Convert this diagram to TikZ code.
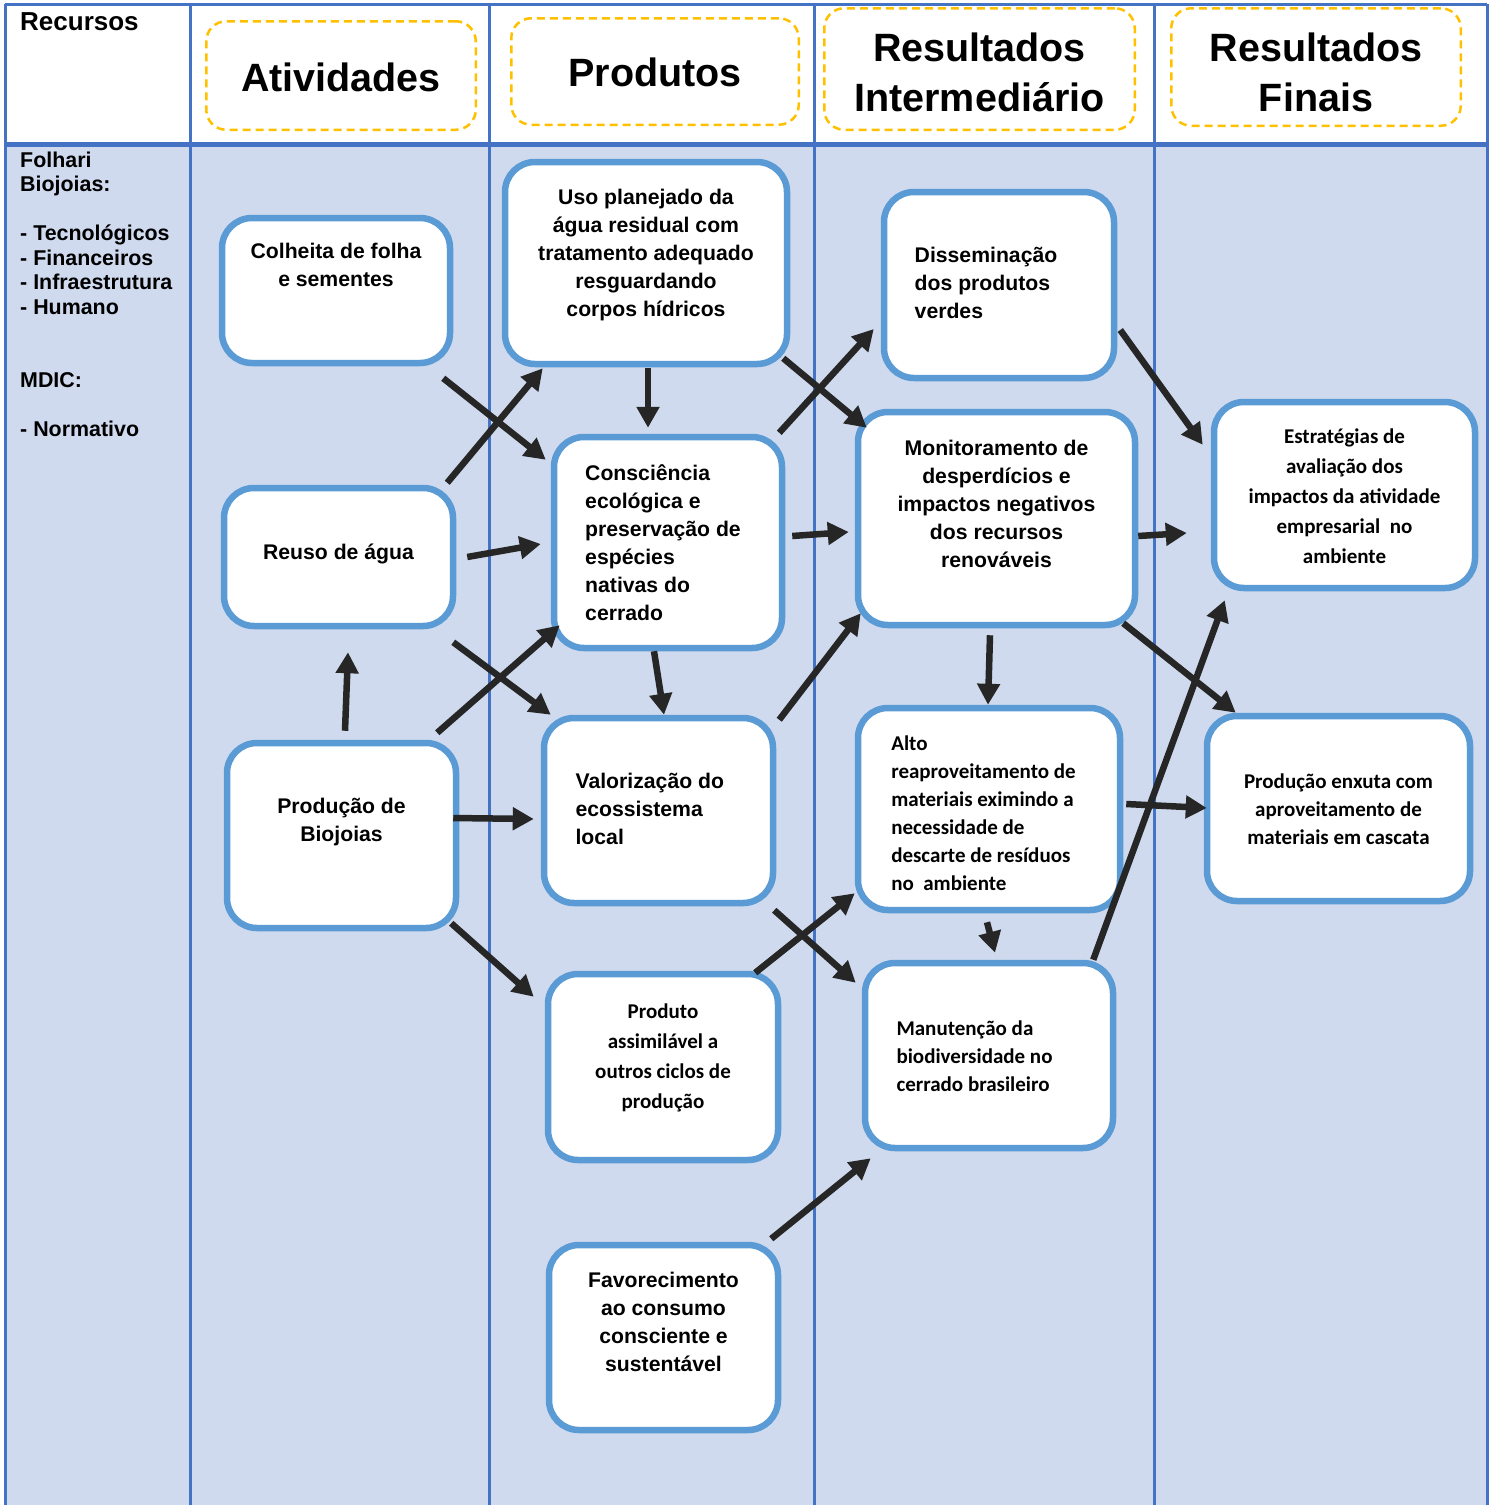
\documentclass[tikz,border=0pt]{standalone}
\usepackage{fontspec}
\setmainfont{Liberation Sans}
\newfontfamily\calib{Carlito}
\usetikzlibrary{arrows.meta}
\definecolor{tblue}{HTML}{4472C4}
\definecolor{bblue}{HTML}{5B9BD5}
\definecolor{bodyfill}{RGB}{207,218,238}
\definecolor{hyel}{HTML}{FFC000}
\definecolor{adark}{HTML}{262626}
\newcommand\boxtxt[4]{\raisebox{#2}[\height][\depth]{\hspace*{#1}\begin{tabular}{@{}#3@{}}#4\end{tabular}\hspace*{-#1}}}
\begin{document}
\begin{tikzpicture}[x=1pt,y=-1pt,
  box/.style={draw=bblue, line width=6.5pt, fill=white, rounded corners=30pt, inner sep=0pt},
  hdr/.style={draw=hyel, line width=2.5pt, dash pattern=on 8pt off 5pt, rounded corners=20pt, inner sep=0pt, font=\fontsize{39.5}{50}\selectfont\bfseries},
  tA/.style={font=\fontsize{21.2}{28}\selectfont\bfseries},
  tC/.style={font=\fontsize{21}{28}\selectfont\calib\bfseries},
  tCw/.style={font=\fontsize{21}{30}\selectfont\calib\bfseries},
  tline/.style={draw=tblue, line width=3pt},
  arw/.style={draw=adark, line width=6.5pt, -{Triangle[length=21pt,width=22pt]}}
]
\useasboundingbox (0,0) rectangle (1495,1505);
% table
\fill[bodyfill] (5,144) rectangle (1487,1505);
\draw[tline] (5,4) -- (1487,4);
\foreach \xx in {5,190,489,814,1154,1487} {\draw[tline] (\xx,4) -- (\xx,1505);}
\draw[tline, line width=4.5pt] (5,144.5) -- (1487,144.5);

% header
\node[anchor=base west, inner sep=0pt, font=\fontsize{26}{30}\selectfont\bfseries] (recursos) at (20,30) {Recursos};
\node[hdr, minimum width=269.5pt, minimum height=108.5pt] (hativ) at (341,75.5) {\boxtxt{0pt}{-5.5pt}{c}{Atividades}};
\node[hdr, minimum width=287.5pt, minimum height=106.5pt] (hprod) at (655,71.5) {\boxtxt{0pt}{-4.5pt}{c}{Produtos}};
\node[hdr, minimum width=310.5pt, minimum height=121.5pt] (hri) at (979.5,69) {\boxtxt{0pt}{-7pt}{c}{Resultados\\Intermediário}};
\node[hdr, minimum width=289.5pt, minimum height=117.5pt] (hrf) at (1316,67) {\boxtxt{0pt}{-9pt}{c}{Resultados\\Finais}};

% resources column
\node[anchor=base west, inner sep=0pt, font=\fontsize{21.4}{24.5}\selectfont\bfseries] (insumos) at (20,167)
  {\begin{tabular}[t]{@{}l@{}}Folhari\\Biojoias:\\ \\- Tecnológicos\\- Financeiros\\- Infraestrutura\\- Humano\\ \\ \\MDIC:\\ \\- Normativo\end{tabular}};

% boxes
\node[box, tA, minimum width=228pt, minimum height=145pt] (colheita) at (336,290.5) {\boxtxt{0pt}{24pt}{c}{Colheita de folha\\e sementes}};
\node[box, tA, minimum width=229pt, minimum height=138pt] (reuso) at (338.5,557) {\boxtxt{0pt}{3pt}{c}{Reuso de água}};
\node[box, tA, minimum width=229pt, minimum height=185pt] (prodbio) at (341.5,835.5) {\boxtxt{0pt}{14pt}{c}{Produção de\\Biojoias}};
\node[box, tA, minimum width=282pt, minimum height=202pt] (uso) at (646,263) {\boxtxt{0pt}{8pt}{c}{Uso planejado da\\água residual com\\tratamento adequado\\resguardando\\corpos hídricos}};
\node[box, tA, minimum width=228pt, minimum height=211pt] (consc) at (668,542.5) {\boxtxt{-5pt}{-2pt}{l}{Consciência\\ecológica e\\preservação de\\espécies\\nativas do\\cerrado}};
\node[box, tA, minimum width=229pt, minimum height=185pt] (valor) at (658.5,810.5) {\boxtxt{-8.7pt}{0pt}{l}{Valorização do\\ecossistema\\local}};
\node[box, tCw, minimum width=230pt, minimum height=186pt] (prodassim) at (663,1067) {\boxtxt{0pt}{10pt}{c}{Produto\\assimilável a\\outros ciclos de\\produção}};
\node[box, tA, minimum width=229pt, minimum height=185pt] (favor) at (663.5,1337.5) {\boxtxt{0pt}{14pt}{c}{Favorecimento\\ao consumo\\consciente e\\sustentável}};
\node[box, tA, minimum width=230pt, minimum height=186pt] (dissem) at (999,285) {\boxtxt{-13pt}{0pt}{l}{Disseminação\\dos produtos\\verdes}};
\node[box, tA, minimum width=277pt, minimum height=213pt] (monit) at (996.5,518.5) {\boxtxt{0pt}{13pt}{c}{Monitoramento de\\desperdícios e\\impactos negativos\\dos recursos\\renováveis}};
\node[box, tC, minimum width=262pt, minimum height=202pt] (alto) at (989,809) {\boxtxt{-5.5pt}{-6pt}{l}{Alto\\reaproveitamento de\\materiais eximindo a\\necessidade de\\descarte de resíduos\\no\ \ ambiente}};
\node[box, tC, minimum width=248pt, minimum height=185pt] (manut) at (989,1055.5) {\boxtxt{-14.5pt}{-2pt}{l}{Manutenção da\\biodiversidade no\\cerrado brasileiro}};
\node[box, tCw, minimum width=261pt, minimum height=186pt] (estrat) at (1344.5,495) {\boxtxt{0pt}{-2pt}{c}{Estratégias de\\avaliação dos\\impactos da atividade\\empresarial\ \ no\\ambiente}};
\node[box, tC, minimum width=263pt, minimum height=185pt] (prodenx) at (1338.5,808.5) {\boxtxt{0pt}{-2pt}{c}{Produção enxuta com\\aproveitamento de\\materiais em cascata}};

% arrows
\draw[arw] ([shift={(-10,12)}]colheita.south east) -- ([shift={(-5,26)}]consc.north west);
\draw[arw] ([shift={(-9,-2)}]reuso.north east) -- ([shift={(41,1)}]uso.south west);
\draw[arw] ([shift={(11,0)}]reuso.east) -- ([shift={(-10,1.5)}]consc.west);
\draw[arw] ([shift={(-3,13)}]reuso.south east) -- ([shift={(10,0)}]valor.north west);
\draw[arw] ([shift={(3.5,-9)}]prodbio.north) -- ([shift={(9.5,23)}]reuso.south);
\draw[arw] ([shift={(-22,-7)}]prodbio.north east) -- ([shift={(9,-26)}]consc.south west);
\draw[arw] ([shift={(-6,-17.5)}]prodbio.east) -- ([shift={(-7,8.5)}]valor.west);
\draw[arw] ([shift={(-8,-8)}]prodbio.south east) -- ([shift={(-11,26)}]prodassim.north west);
\draw[arw] ([shift={(2,1)}]uso.south) -- ([shift={(-20,-6)}]consc.north);
\draw[arw] ([shift={(-7,-9)}]uso.south east) -- ([shift={(12,19)}]monit.north west);
\draw[arw] ([shift={(-6,-1)}]consc.north east) -- ([shift={(-7,44)}]dissem.west);
\draw[arw] ([shift={(7,-6.5)}]consc.east) -- ([shift={(-6,13.5)}]monit.west);
\draw[arw] ([shift={(-14,0)}]consc.south) -- ([shift={(5.5,0)}]valor.north);
\draw[arw] ([shift={(3,5)}]valor.north east) -- ([shift={(6,-15)}]monit.south west);
\draw[arw] ([shift={(-2,4)}]valor.south east) -- ([shift={(-6,23)}]manut.north west);
\draw[arw] ([shift={(-26,2)}]prodassim.north east) -- ([shift={(0,-20)}]alto.south west);
\draw[arw] ([shift={(-10,-3)}]favor.north east) -- ([shift={(9,7)}]manut.south west);
\draw[arw] ([shift={(3,45)}]dissem.east) -- ([shift={(-8,46)}]estrat.north west);
\draw[arw] ([shift={(0,17.5)}]monit.east) -- ([shift={(-24,38)}]estrat.west);
\draw[arw] ([shift={(-6.5,7)}]monit.south) -- ([shift={(-1,0)}]alto.north);
\draw[arw] ([shift={(-15,-5)}]monit.south east) -- ([shift={(32,0)}]prodenx.north west);
\draw[arw] ([shift={(3,-5)}]alto.east) -- ([shift={(3,-0.5)}]prodenx.west);
\draw[arw] ([shift={(-2,9)}]alto.south) -- ([shift={(6,-7)}]manut.north);
\draw[arw] ([shift={(-23,0)}]manut.north east) -- ([shift={(14,9)}]estrat.south west);
\end{tikzpicture}
\end{document}
